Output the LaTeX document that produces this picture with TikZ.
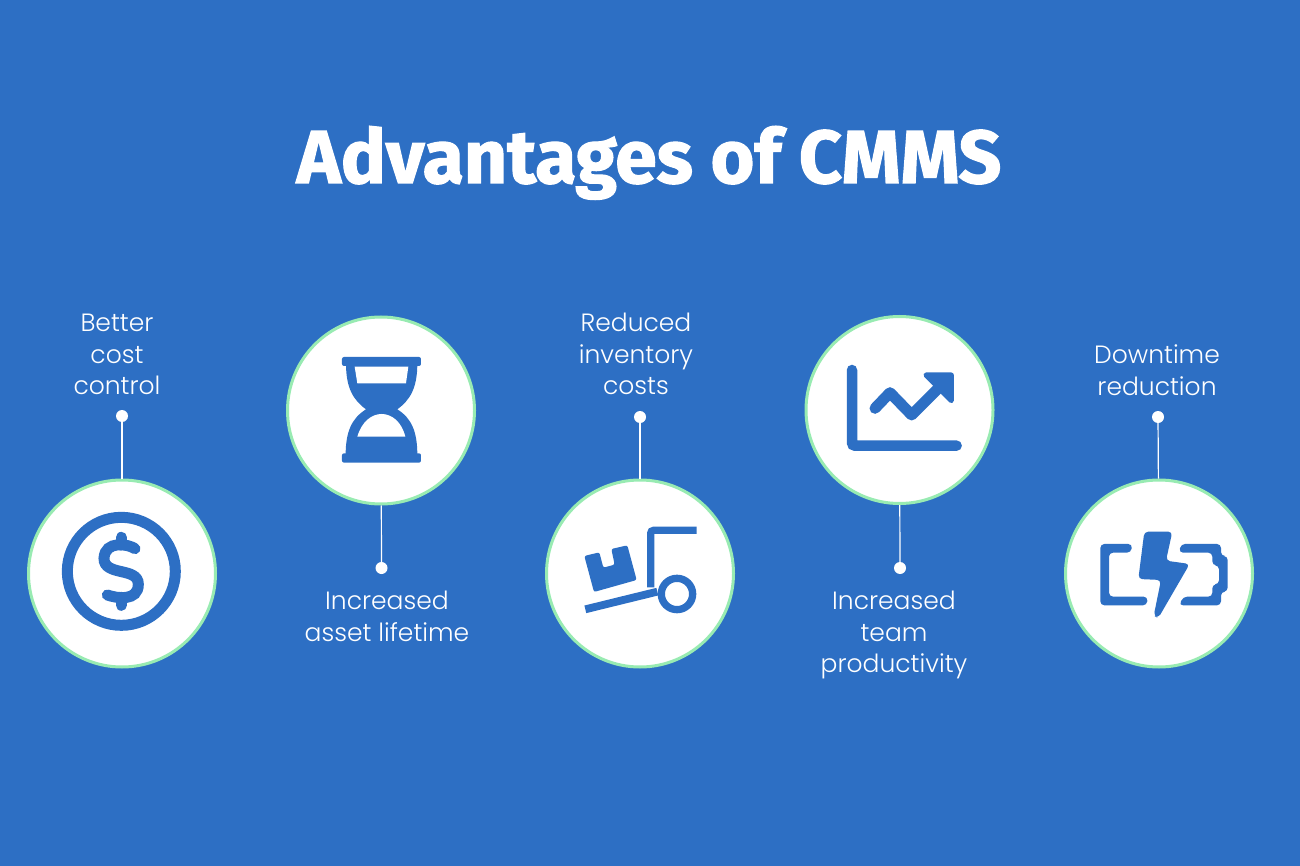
\documentclass[tikz,border=0pt]{standalone}
\usepackage{fontspec}
\setmainfont{Poppins Light}
\newfontfamily\titlefont{Fira Sans}[UprightFont=* Bold, FakeBold=1.6]
\usepackage{tikz}
\usepackage{xcolor}
\definecolor{cmmsblue}{HTML}{2D6FC4}
\definecolor{ringgreen}{HTML}{98EBB2}
\tikzset{
    icon-circle/.style = {circle, draw=ringgreen, fill=white, line width=3pt, minimum size=187pt, inner sep=0pt},
    pin-dot/.style = {circle, fill=white, minimum size=12pt, inner sep=0pt},
    pin-line/.style = {draw=white, line width=1.2pt},
    label-text/.style = {text=white, font=\fontsize{25}{31.5}\selectfont, align=center},
    icon-stroke/.style = {draw=cmmsblue, line width=3.6pt},
    icon-fill/.style = {fill=cmmsblue},
}

\begin{document}
\begin{tikzpicture}[x=1pt, y=-1pt]
\useasboundingbox (0,0) rectangle (1300,866);
\fill[cmmsblue] (0,0) rectangle (1300,866);

\node[text=white, anchor=base, font=\titlefont\fontsize{75}{75}\selectfont] (title) at (649,183) {Advantages of CMMS};

% circles
\node[icon-circle] (cost) at (122,573.5) {};
\node[icon-circle] (asset) at (381,410.5) {};
\node[icon-circle] (stock) at (640,573.5) {};
\node[icon-circle] (team) at (899.5,410) {};
\node[icon-circle] (power) at (1159,573.5) {};

% pins
\node[pin-dot] (costpin) at (122,416) {};
\node[pin-dot] (assetpin) at (381.5,568) {};
\node[pin-dot] (stockpin) at (640,417) {};
\node[pin-dot] (teampin) at (900,568) {};
\node[pin-dot] (powerpin) at (1158,417) {};
\draw[pin-line] (costpin) -- (cost);
\draw[pin-line] (assetpin) -- (asset);
\draw[pin-line] (stockpin) -- (stock);
\draw[pin-line] (teampin) -- (team);
\draw[pin-line] (powerpin) -- (power);

% labels
\node[label-text] (costtext) at (117,354.5) {Better\\cost\\control};
\node[label-text] (assettext) at (387,616.5) {Increased\\asset lifetime};
\node[label-text] (stocktext) at (636,354) {Reduced\\inventory\\costs};
\node[label-text] (teamtext) at (894,635) {Increased\\team\\productivity};
\node[label-text] (powertext) at (1157,370) {Downtime\\reduction};

% dollar
\begin{scope}[shift={(20,470)}, scale=0.3333]
\draw[icon-stroke, line width=11pt] (304,304) circle (162);
\draw[icon-stroke, line width=11pt, line cap=round] (345,236) .. controls (325,222) and (255,210) .. (252,265) .. controls (252,320) and (355,290) .. (355,343) .. controls (355,395) and (290,385) .. (262,375);
\draw[icon-stroke, line width=11pt, line cap=round] (304,202) -- (304,225);
\draw[icon-stroke, line width=11pt, line cap=round] (304,382) -- (304,406);
\end{scope}

% hourglass
\begin{scope}[shift={(280,310)}, scale=0.3333]
\fill[icon-fill, rounded corners=2pt] (186,141) rectangle (423,168);
\fill[icon-fill, rounded corners=2pt] (186,430) rectangle (423,458);
\fill[icon-fill] (198,160) .. controls (198,235) and (220,270) .. (258,298) .. controls (215,325) and (197,365) .. (197,435) -- (412,435) .. controls (412,365) and (395,325) .. (352,298) .. controls (390,270) and (412,235) .. (412,160) -- cycle;
\fill[white] (224,170) -- (385,170) -- (378,220) -- (232,220) -- cycle;
\fill[white] (232,380) .. controls (245,335) and (275,312) .. (305,312) .. controls (335,312) and (365,335) .. (376,380) -- cycle;
\end{scope}

% trolley
\begin{scope}[shift={(540,470)}, scale=0.3333]
\draw[icon-stroke, line width=7.3pt, rounded corners=3pt] (470,181) -- (332,181) -- (332,352);
\draw[icon-stroke, line width=7.8pt] (136,418) -- (352,365);
\draw[icon-stroke, line width=7.3pt] (411,372) circle (47);
\fill[icon-fill, rounded corners=2pt] (133,258) -- (178,247) -- (190,293) -- (224,284) -- (214,237) -- (262,226) -- (290,330) -- (162,366) -- cycle;
\end{scope}

% chart
\begin{scope}[shift={(800,310)}, scale=0.3333]
\draw[icon-stroke, line width=10.5pt, line cap=round, rounded corners=3pt] (156,180) -- (156,407) -- (470,407);
\draw[icon-stroke, line width=11pt, line cap=round, line join=round] (225,295) -- (270,248) -- (335,315) -- (415,235);
\filldraw[icon-fill, icon-stroke, line width=5pt, line join=round] (378,195) -- (454,195) -- (454,272) -- cycle;
\end{scope}

% battery
\begin{scope}[shift={(1055,470)}, scale=0.3333]
\fill[icon-fill, rounded corners=4pt] (232,222) -- (136,222) -- (136,406) -- (276,406) -- (278,380) -- (162,380) -- (162,248) -- (228,248) -- cycle;
\fill[icon-fill, rounded corners=4pt] (378,222) -- (498,222) -- (498,258) -- (518,258) -- (518,365) -- (498,365) -- (498,406) -- (372,406) -- (385,380) -- (472,380) -- (472,343) -- (492,343) -- (492,286) -- (472,286) -- (472,248) -- (372,248) -- cycle;
\fill[icon-fill, rounded corners=4pt] (268,185) -- (352,185) -- (333,272) -- (404,282) -- (310,444) -- (296,438) -- (318,330) -- (250,327) -- cycle;
\end{scope}
\end{tikzpicture}
\end{document}
